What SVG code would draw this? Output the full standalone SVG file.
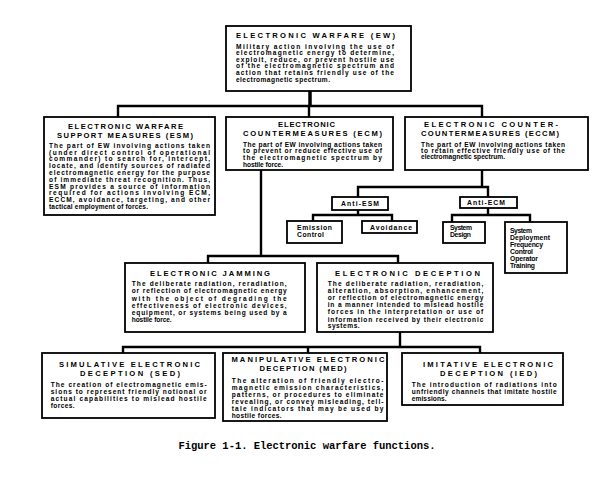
<svg xmlns="http://www.w3.org/2000/svg" width="610" height="480" viewBox="0 0 610 480">
<style>
.bx{fill:#fff;stroke:#000;stroke-width:1.8}
.t{font-family:"Liberation Sans",Arial,sans-serif;font-weight:bold;font-size:7.6px;fill:#000;text-anchor:middle}
.b{font-family:"Liberation Sans",Arial,sans-serif;font-weight:bold;font-size:6.6px;fill:#000}
.s{font-family:"Liberation Sans",Arial,sans-serif;font-weight:bold;font-size:6.8px;fill:#000}
.c{fill:none;stroke:#000;stroke-width:2.4}
.cap{font-family:"Liberation Mono","Courier New",monospace;font-size:10.5px;font-weight:bold;fill:#000;text-anchor:middle}
</style>
<rect width="610" height="480" fill="#fff"/>
<g id="connectors">
<path class="c" style="stroke-width:3.5" d="M310 91V106"/>
<path class="c" d="M118 117V106H482V117M309 106V117"/>
<path class="c" d="M482 170V187M358 197V187H488V197"/>
<path class="c" d="M358 210V215M313 221V215H392V221"/>
<path class="c" d="M488 208V215M452 222V215H530V222"/>
<path class="c" d="M261 170V256M208 263V256H398V263"/>
<path class="c" d="M400 332V347M123 353V347H480V353M308 347V353"/>
</g>
<g id="ew">
<rect class="bx" x="226" y="26" width="185" height="65"/>
<text class="t" x="315.5" y="37.5" textLength="159">ELECTRONIC WARFARE (EW)</text>
<text class="b" x="236" y="48.5" textLength="158">Military action involving the use of</text>
<text class="b" x="236" y="55.2" textLength="158">electromagnetic energy to determine,</text>
<text class="b" x="236" y="61.8" textLength="158">exploit, reduce, or prevent hostile use</text>
<text class="b" x="236" y="68.4" textLength="158">of the electromagnetic spectrum and</text>
<text class="b" x="236" y="75" textLength="158">action that retains friendly use of the</text>
<text class="b" x="236" y="82" textLength="94">electromagnetic spectrum.</text>
</g>
<g id="esm">
<rect class="bx" x="44" y="117" width="171" height="98"/>
<text class="t" x="125.5" y="128.5" textLength="115">ELECTRONIC WARFARE</text>
<text class="t" x="125" y="137.5" textLength="136">SUPPORT MEASURES (ESM)</text>
<text class="b" x="49" y="147.7" textLength="161">The part of EW involving actions taken</text>
<text class="b" x="49" y="154.5" textLength="161">(under direct control of operational</text>
<text class="b" x="49" y="161.3" textLength="161">commander) to search for, intercept,</text>
<text class="b" x="49" y="168.1" textLength="161">locate, and identify sources of radiated</text>
<text class="b" x="49" y="174.9" textLength="161">electromagnetic energy for the purpose</text>
<text class="b" x="49" y="181.7" textLength="161">of immediate threat recognition. Thus,</text>
<text class="b" x="49" y="188.5" textLength="161">ESM provides a source of information</text>
<text class="b" x="49" y="195.3" textLength="161">required for actions involving ECM,</text>
<text class="b" x="49" y="202.1" textLength="161">ECCM, avoidance, targeting, and other</text>
<text class="b" x="49" y="208.9" textLength="99">tactical employment of forces.</text>
</g>
<g id="ecm">
<rect class="bx" x="226" y="117" width="167" height="53"/>
<text class="t" x="306.5" y="127.3" textLength="57">ELECTRONIC</text>
<text class="t" x="312.5" y="136.1" textLength="139">COUNTERMEASURES (ECM)</text>
<text class="b" x="243" y="146.5" textLength="139">The part of EW involving actions taken</text>
<text class="b" x="243" y="153.3" textLength="139">to prevent or reduce effective use of</text>
<text class="b" x="243" y="160" textLength="139">the electromagnetic spectrum by</text>
<text class="b" x="243" y="166.7" textLength="40">hostile force.</text>
</g>
<g id="eccm">
<rect class="bx" x="405" y="117" width="183" height="53"/>
<text class="t" x="491" y="127.3" textLength="134">ELECTRONIC COUNTER-</text>
<text class="t" x="490" y="136.1" textLength="138">COUNTERMEASURES (ECCM)</text>
<text class="b" x="421" y="147.3" textLength="144">The part of EW involving actions taken</text>
<text class="b" x="421" y="153.3" textLength="144">to retain effective friendly use of the</text>
<text class="b" x="421" y="159.3" textLength="84">electromagnetic spectrum.</text>
</g>
<g id="anti-esm">
<rect class="bx" x="332" y="197" width="56" height="13"/>
<text class="s" x="341" y="206" textLength="38">Anti-ESM</text>
</g>
<g id="emission-control">
<rect class="bx" x="287" y="221" width="55" height="22"/>
<text class="s" x="297" y="230" textLength="35">Emission</text>
<text class="s" x="297" y="237.3" textLength="27">Control</text>
</g>
<g id="avoidance">
<rect class="bx" x="362" y="221" width="55" height="12"/>
<text class="s" x="370" y="230" textLength="42">Avoidance</text>
</g>
<g id="anti-ecm">
<rect class="bx" x="460" y="197" width="57" height="11"/>
<text class="s" x="467" y="205" textLength="38">Anti-ECM</text>
</g>
<g id="system-design">
<rect class="bx" x="443" y="222" width="42" height="21"/>
<text class="s" x="450" y="230" textLength="22">System</text>
<text class="s" x="450" y="236.7" textLength="21">Design</text>
</g>
<g id="system-deployment">
<rect class="bx" x="505" y="222" width="62" height="51"/>
<text class="s" x="510" y="233.3" textLength="22">System</text>
<text class="s" x="510" y="240.2" textLength="40">Deployment</text>
<text class="s" x="510" y="247" textLength="33">Frequency</text>
<text class="s" x="510" y="254" textLength="23">Control</text>
<text class="s" x="510" y="261" textLength="28">Operator</text>
<text class="s" x="510" y="268.2" textLength="25">Training</text>
</g>
<g id="jamming">
<rect class="bx" x="125" y="263" width="180" height="69"/>
<text class="t" x="210" y="275.7" textLength="120">ELECTRONIC JAMMING</text>
<text class="b" x="131.7" y="286" textLength="155">The deliberate radiation, reradiation,</text>
<text class="b" x="131.7" y="293.3" textLength="155">or reflection of electromagnetic energy</text>
<text class="b" x="131.7" y="300.6" textLength="155">with the object of degrading the</text>
<text class="b" x="131.7" y="307.9" textLength="155">effectiveness of electronic devices,</text>
<text class="b" x="131.7" y="315" textLength="155">equipment, or systems being used by a</text>
<text class="b" x="131.7" y="322.3" textLength="40">hostile force.</text>
</g>
<g id="deception">
<rect class="bx" x="317" y="263" width="176" height="69"/>
<text class="t" x="407.5" y="275.7" textLength="145">ELECTRONIC DECEPTION</text>
<text class="b" x="327.7" y="286" textLength="155.6">The deliberate radiation, reradiation,</text>
<text class="b" x="327.7" y="293.2" textLength="155.6">alteration, absorption, enhancement,</text>
<text class="b" x="327.7" y="300.2" textLength="155.6">or reflection of electromagnetic energy</text>
<text class="b" x="327.7" y="307.3" textLength="155.6">in a manner intended to mislead hostile</text>
<text class="b" x="327.7" y="314.4" textLength="155.6">forces in the interpretation or use of</text>
<text class="b" x="327.7" y="321.5" textLength="155.6">information received by their electronic</text>
<text class="b" x="327.7" y="328.3" textLength="32">systems.</text>
</g>
<g id="sed">
<rect class="bx" x="42" y="353" width="173" height="65"/>
<text class="t" x="129.5" y="366.7" textLength="141">SIMULATIVE ELECTRONIC</text>
<text class="t" x="130" y="375.7" textLength="100">DECEPTION (SED)</text>
<text class="b" x="50.7" y="386.7" textLength="156">The creation of electromagnetic emis-</text>
<text class="b" x="50.7" y="394" textLength="156">sions to represent friendly notional or</text>
<text class="b" x="50.7" y="401" textLength="156">actual capabilities to mislead hostile</text>
<text class="b" x="50.7" y="408.3" textLength="24">forces.</text>
</g>
<g id="med">
<rect class="bx" x="223" y="353" width="164" height="68"/>
<text class="t" x="308" y="362.4" textLength="153">MANIPULATIVE ELECTRONIC</text>
<text class="t" x="303" y="371.2" textLength="87">DECEPTION (MED)</text>
<text class="b" x="231.7" y="383.3" textLength="151.7">The alteration of friendly electro-</text>
<text class="b" x="231.7" y="390.2" textLength="151.7">magnetic emission characteristics,</text>
<text class="b" x="231.7" y="397.2" textLength="151.7">patterns, or procedures to eliminate</text>
<text class="b" x="231.7" y="404.2" textLength="151.7">revealing, or convey misleading, tell-</text>
<text class="b" x="231.7" y="411" textLength="151.7">tale indicators that may be used by</text>
<text class="b" x="231.7" y="417.7" textLength="50">hostile forces.</text>
</g>
<g id="ied">
<rect class="bx" x="402" y="353" width="161" height="52"/>
<text class="t" x="488" y="366.7" textLength="130">IMITATIVE ELECTRONIC</text>
<text class="t" x="488.5" y="375.7" textLength="97">DECEPTION (IED)</text>
<text class="b" x="411.7" y="386.7" textLength="145">The introduction of radiations into</text>
<text class="b" x="411.7" y="394" textLength="145">unfriendly channels that imitate hostile</text>
<text class="b" x="411.7" y="401" textLength="35">emissions.</text>
</g>
<text class="cap" x="307" y="449" textLength="257">Figure 1-1. Electronic warfare functions.</text>
</svg>
